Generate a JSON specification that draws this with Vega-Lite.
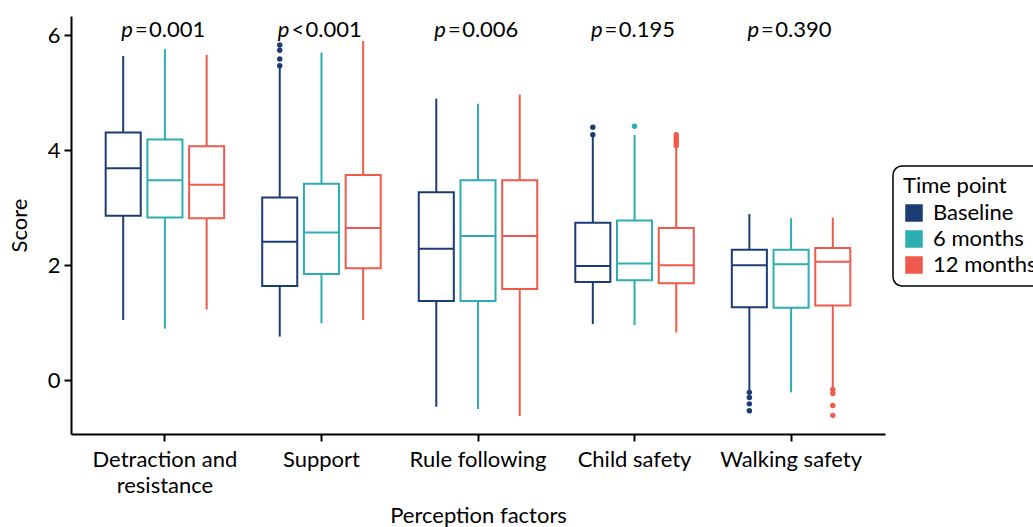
{
  "$schema": "https://vega.github.io/schema/vega-lite/v6.json",
  "width": 814,
  "height": 418,
  "autosize": {"type": "none"},
  "padding": {"left": 71, "top": 16, "right": 148, "bottom": 93},
  "background": "white",
  "config": {
    "font": "Lato",
    "view": {"stroke": null},
    "axis": {
      "domainColor": "black", "domainWidth": 2, "tickColor": "black", "tickWidth": 2, "tickSize": 7,
      "labelColor": "black", "labelFontSize": 22, "labelFont": "Lato", "titleFont": "Lato",
      "titleFontSize": 22, "titleFontWeight": "normal", "titleColor": "black", "grid": false
    },
    "legend": {"labelFont": "Lato", "titleFont": "Lato"}
  },
  "datasets": {
    "boxes": [
      {"cat": "Detraction and resistance", "time": "Baseline", "lo": 1.05, "q1": 2.86, "med": 3.69, "q3": 4.31, "hi": 5.64},
      {"cat": "Detraction and resistance", "time": "6 months", "lo": 0.90, "q1": 2.83, "med": 3.48, "q3": 4.19, "hi": 5.76},
      {"cat": "Detraction and resistance", "time": "12 months", "lo": 1.23, "q1": 2.82, "med": 3.40, "q3": 4.07, "hi": 5.66},
      {"cat": "Support", "time": "Baseline", "lo": 0.76, "q1": 1.64, "med": 2.41, "q3": 3.18, "hi": 5.45},
      {"cat": "Support", "time": "6 months", "lo": 0.99, "q1": 1.85, "med": 2.57, "q3": 3.42, "hi": 5.70},
      {"cat": "Support", "time": "12 months", "lo": 1.05, "q1": 1.95, "med": 2.65, "q3": 3.57, "hi": 5.90},
      {"cat": "Rule following", "time": "Baseline", "lo": -0.46, "q1": 1.38, "med": 2.29, "q3": 3.27, "hi": 4.90},
      {"cat": "Rule following", "time": "6 months", "lo": -0.50, "q1": 1.38, "med": 2.51, "q3": 3.48, "hi": 4.81},
      {"cat": "Rule following", "time": "12 months", "lo": -0.62, "q1": 1.59, "med": 2.51, "q3": 3.48, "hi": 4.97},
      {"cat": "Child safety", "time": "Baseline", "lo": 0.98, "q1": 1.71, "med": 1.99, "q3": 2.74, "hi": 4.26},
      {"cat": "Child safety", "time": "6 months", "lo": 0.96, "q1": 1.74, "med": 2.03, "q3": 2.78, "hi": 4.27},
      {"cat": "Child safety", "time": "12 months", "lo": 0.83, "q1": 1.69, "med": 2.00, "q3": 2.65, "hi": 4.05},
      {"cat": "Walking safety", "time": "Baseline", "lo": -0.17, "q1": 1.27, "med": 2.00, "q3": 2.27, "hi": 2.89},
      {"cat": "Walking safety", "time": "6 months", "lo": -0.21, "q1": 1.26, "med": 2.02, "q3": 2.27, "hi": 2.82},
      {"cat": "Walking safety", "time": "12 months", "lo": -0.14, "q1": 1.30, "med": 2.06, "q3": 2.30, "hi": 2.83}
    ],
    "outliers": [
      {"cat": "Support", "time": "Baseline", "value": 5.83},
      {"cat": "Support", "time": "Baseline", "value": 5.74},
      {"cat": "Support", "time": "Baseline", "value": 5.59},
      {"cat": "Support", "time": "Baseline", "value": 5.47},
      {"cat": "Child safety", "time": "Baseline", "value": 4.40},
      {"cat": "Child safety", "time": "Baseline", "value": 4.27},
      {"cat": "Child safety", "time": "6 months", "value": 4.42},
      {"cat": "Child safety", "time": "12 months", "value": 4.27},
      {"cat": "Child safety", "time": "12 months", "value": 4.22},
      {"cat": "Child safety", "time": "12 months", "value": 4.17},
      {"cat": "Child safety", "time": "12 months", "value": 4.12},
      {"cat": "Child safety", "time": "12 months", "value": 4.08},
      {"cat": "Walking safety", "time": "Baseline", "value": -0.21},
      {"cat": "Walking safety", "time": "Baseline", "value": -0.30},
      {"cat": "Walking safety", "time": "Baseline", "value": -0.41},
      {"cat": "Walking safety", "time": "Baseline", "value": -0.53},
      {"cat": "Walking safety", "time": "12 months", "value": -0.16},
      {"cat": "Walking safety", "time": "12 months", "value": -0.23},
      {"cat": "Walking safety", "time": "12 months", "value": -0.44},
      {"cat": "Walking safety", "time": "12 months", "value": -0.61}
    ],
    "pvals": [
      {"cat": "Detraction and resistance", "p": "p", "rest": "=\u200a0.001"},
      {"cat": "Support", "p": "p", "rest": "<\u200a0.001"},
      {"cat": "Rule following", "p": "p", "rest": "=\u200a0.006"},
      {"cat": "Child safety", "p": "p", "rest": "=\u200a0.195"},
      {"cat": "Walking safety", "p": "p", "rest": "=\u200a0.390"}
    ]
  },
  "encoding": {
    "x": {
      "field": "cat", "type": "nominal",
      "sort": ["Detraction and resistance", "Support", "Rule following", "Child safety", "Walking safety"],
      "scale": {"paddingInner": 0, "paddingOuter": 0.1},
      "axis": {
        "title": "Perception factors", "labelAngle": 0, "labelPadding": 8, "labelLineHeight": 26,
        "labelBaseline": "top", "titlePadding": 9,
        "labelExpr": "datum.value == 'Detraction and resistance' ? ['Detraction and', 'resistance'] : datum.label"
      }
    }
  },
  "layer": [
    {
      "data": {"name": "outliers"},
      "mark": {"type": "point", "filled": true, "size": 30, "opacity": 1},
      "encoding": {
        "xOffset": {"field": "time", "type": "nominal", "sort": ["Baseline", "6 months", "12 months"], "scale": {"paddingInner": 0.16, "paddingOuter": 0.456}},
        "y": {
          "field": "value", "type": "quantitative",
          "scale": {"domain": [-0.934, 6.336], "nice": false, "zero": false},
          "axis": {"title": "Score", "values": [0, 2, 4, 6], "format": "d", "labelPadding": 4, "titlePadding": 16}
        },
        "color": {
          "field": "time", "type": "nominal",
          "scale": {"domain": ["Baseline", "6 months", "12 months"], "range": ["#1c3d74", "#2daeb1", "#ee5b4c"]},
          "legend": {
            "title": "Time point", "orient": "none", "legendX": 822, "legendY": 150,
            "symbolType": "square", "symbolSize": 256, "symbolStrokeColor": "black", "symbolStrokeWidth": 1.5,
            "symbolOpacity": 1, "labelFontSize": 22, "titleFontSize": 22, "titleFontWeight": "normal",
            "labelColor": "black", "titleColor": "black", "strokeColor": "black",
            "cornerRadius": 9, "padding": 10, "rowPadding": 4, "titlePadding": 4, "labelOffset": 8,
            "encode": {"legend": {"update": {"strokeWidth": {"value": 1.5}}}}
          }
        }
      }
    },
    {
      "data": {"name": "boxes"},
      "mark": {"type": "rule", "strokeWidth": 2},
      "encoding": {
        "xOffset": {"field": "time", "type": "nominal", "sort": ["Baseline", "6 months", "12 months"]},
        "y": {"field": "lo", "type": "quantitative"},
        "y2": {"field": "q1"},
        "color": {"field": "time", "type": "nominal"}
      }
    },
    {
      "data": {"name": "boxes"},
      "mark": {"type": "rule", "strokeWidth": 2},
      "encoding": {
        "xOffset": {"field": "time", "type": "nominal", "sort": ["Baseline", "6 months", "12 months"]},
        "y": {"field": "q3", "type": "quantitative"},
        "y2": {"field": "hi"},
        "color": {"field": "time", "type": "nominal"}
      }
    },
    {
      "data": {"name": "boxes"},
      "mark": {"type": "bar", "filled": false, "strokeWidth": 2},
      "encoding": {
        "xOffset": {"field": "time", "type": "nominal", "sort": ["Baseline", "6 months", "12 months"]},
        "y": {"field": "q1", "type": "quantitative"},
        "y2": {"field": "q3"},
        "color": {"field": "time", "type": "nominal"}
      }
    },
    {
      "data": {"name": "boxes"},
      "mark": {"type": "tick", "thickness": 2, "size": 35, "opacity": 1},
      "encoding": {
        "xOffset": {"field": "time", "type": "nominal", "sort": ["Baseline", "6 months", "12 months"]},
        "y": {"field": "med", "type": "quantitative"},
        "color": {"field": "time", "type": "nominal"}
      }
    },
    {
      "data": {"name": "pvals"},
      "mark": {"type": "text", "align": "right", "baseline": "middle", "dx": -32, "fontSize": 22, "fontStyle": "italic", "color": "black"},
      "encoding": {
        "y": {"datum": 6.09, "type": "quantitative"},
        "text": {"field": "p"}
      }
    },
    {
      "data": {"name": "pvals"},
      "mark": {"type": "text", "align": "left", "baseline": "middle", "dx": -30, "fontSize": 22, "color": "black"},
      "encoding": {
        "y": {"datum": 6.09, "type": "quantitative"},
        "text": {"field": "rest"}
      }
    }
  ]
}
